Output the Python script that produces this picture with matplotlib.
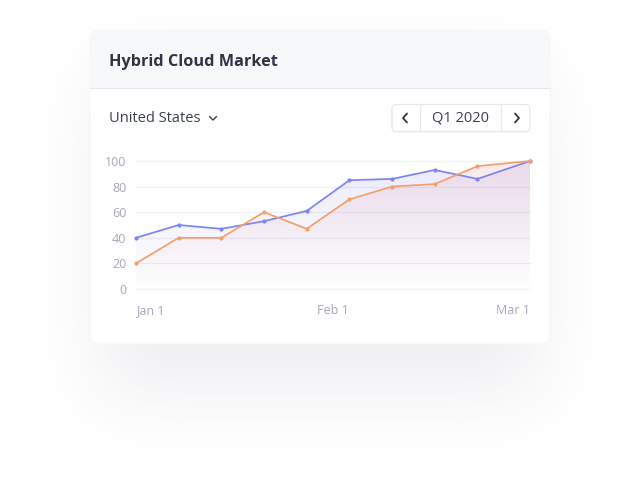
import numpy as np
import matplotlib
matplotlib.use("Agg")
import matplotlib.pyplot as plt
import matplotlib.colors as mcolors
from matplotlib.patches import FancyBboxPatch, Rectangle

plt.rcParams['font.family'] = ['Open Sans', 'DejaVu Sans']

# data (x in days from Jan 1)
days = [0, 6.5, 13, 19.5, 26, 32.5, 39, 45.5, 52, 60]
blue_vals = [40, 50, 47, 53, 61, 85, 86, 93, 86, 100]
orange_vals = [20, 40, 40, 60, 47, 70, 80, 82, 96, 100]
tick_days = [0, 30, 60]
tick_names = ["Jan 1", "Feb 1", "Mar 1"]
y_ticks = [0, 20, 40, 60, 80, 100]

title = "Hybrid Cloud Market"
country = "United States"
period = "Q1 2020"

BLUE = "#7d84f6"
ORANGE = "#f4a06c"
DARK = "#2e3347"
GREY = "#a5a8b9"

W, H = 640, 494
fig = plt.figure(figsize=(W / 100, H / 100), dpi=100)
fig.patch.set_facecolor("white")

bg = fig.add_axes([0, 0, 1, 1])
bg.set_xlim(0, W)
bg.set_ylim(H, 0)
bg.axis("off")

# soft drop shadow under the card
def blur(a, sigma):
    r = int(sigma * 3)
    k = np.exp(-0.5 * (np.arange(-r, r + 1) / sigma) ** 2)
    k /= k.sum()
    a = np.apply_along_axis(lambda v: np.convolve(v, k, mode="same"), 0, a)
    a = np.apply_along_axis(lambda v: np.convolve(v, k, mode="same"), 1, a)
    return a

mask = np.zeros((H, W))
mask[70:395, 100:540] = 1.0
sh = blur(mask, 36)
shadow = np.zeros((H, W, 4))
shadow[..., :3] = mcolors.to_rgb("#4a5070")
shadow[..., 3] = sh * 0.09
bg.imshow(shadow, extent=(0, W, H, 0), aspect="auto", zorder=0)

# card
card = FancyBboxPatch((90, 30), 460, 314, boxstyle="round,pad=0,rounding_size=10",
                      fc="white", ec="#f2f3f6", lw=0.5, zorder=1)
bg.add_patch(card)
head = Rectangle((90, 30), 460, 58, fc="#f7f8fa", ec="none", zorder=1.1)
head.set_clip_path(card)
bg.add_patch(head)
bg.plot([90, 550], [88, 88], color="#e6e8ee", lw=0.8, zorder=1.2)

bg.text(109, 62, title, fontsize=11.7, fontweight="bold", color=DARK,
        va="center", ha="left", zorder=2)
bg.text(109, 118, country, fontsize=10.5, color="#3a3f52", va="center", ha="left", zorder=2)
bg.plot([209.5, 213, 216.5], [116.5, 120, 116.5], color="#3a3f52", lw=1.0, zorder=2,
        solid_capstyle="round", solid_joinstyle="round")

# period switcher
btn = FancyBboxPatch((392, 104.5), 138, 27, boxstyle="round,pad=0,rounding_size=4",
                     fc="white", ec="#e6e8ee", lw=0.9, zorder=2)
bg.add_patch(btn)
bg.plot([420, 420], [104.5, 131.5], color="#e6e8ee", lw=0.9, zorder=2)
bg.plot([501, 501], [104.5, 131.5], color="#e6e8ee", lw=0.9, zorder=2)
bg.plot([407, 403, 407], [113.5, 118, 122.5], color=DARK, lw=1.3, zorder=3,
        solid_capstyle="round", solid_joinstyle="round")
bg.plot([515, 519, 515], [113.5, 118, 122.5], color=DARK, lw=1.3, zorder=3,
        solid_capstyle="round", solid_joinstyle="round")
bg.text(460.5, 118, period, fontsize=10.5, color="#3a3f52", va="center", ha="center", zorder=3)

# chart area
ax = fig.add_axes([136 / W, 1 - 289 / H, 394 / W, 128 / H])
ax.set_zorder(5)
ax.patch.set_alpha(0)
ax.set_xlim(0, 60)
ax.set_ylim(0, 100)
for s in ax.spines.values():
    s.set_visible(False)

for t in y_ticks:
    ax.axhline(t, color="#eef0f5", lw=0.9, zorder=0, clip_on=False)


def grad_fill(x, y, color, a_top):
    poly, = ax.fill(np.r_[x[0], x, x[-1]], np.r_[0, y, 0], fc="none", ec="none")
    g = np.zeros((256, 1, 4))
    g[..., :3] = mcolors.to_rgb(color)
    g[:, 0, 3] = np.linspace(a_top, 0.0, 256)
    im = ax.imshow(g, extent=(0, 60, 0, 100), aspect="auto", origin="upper", zorder=1)
    im.set_clip_path(poly)


grad_fill(days, blue_vals, "#8a86f2", 0.17)
grad_fill(days, orange_vals, "#e79a9c", 0.20)
ax.set_xlim(0, 60)
ax.set_ylim(0, 100)

ax.plot(days, blue_vals, color=BLUE, lw=1.25, marker="o", ms=2.0, zorder=3, clip_on=False)
ax.plot(days, orange_vals, color=ORANGE, lw=1.25, marker="o", ms=2.0, zorder=3, clip_on=False)

ax.set_yticks(y_ticks)
ax.set_xticks(tick_days)
ax.set_xticklabels(tick_names)
ax.tick_params(axis="both", length=0, labelcolor=GREY, labelsize=9)
ax.tick_params(axis="y", pad=7)
ax.tick_params(axis="x", pad=11)
xl = ax.get_xticklabels()
xl[0].set_ha("left")
xl[-1].set_ha("right")

fig.savefig("out.png", dpi=100, facecolor="white")
